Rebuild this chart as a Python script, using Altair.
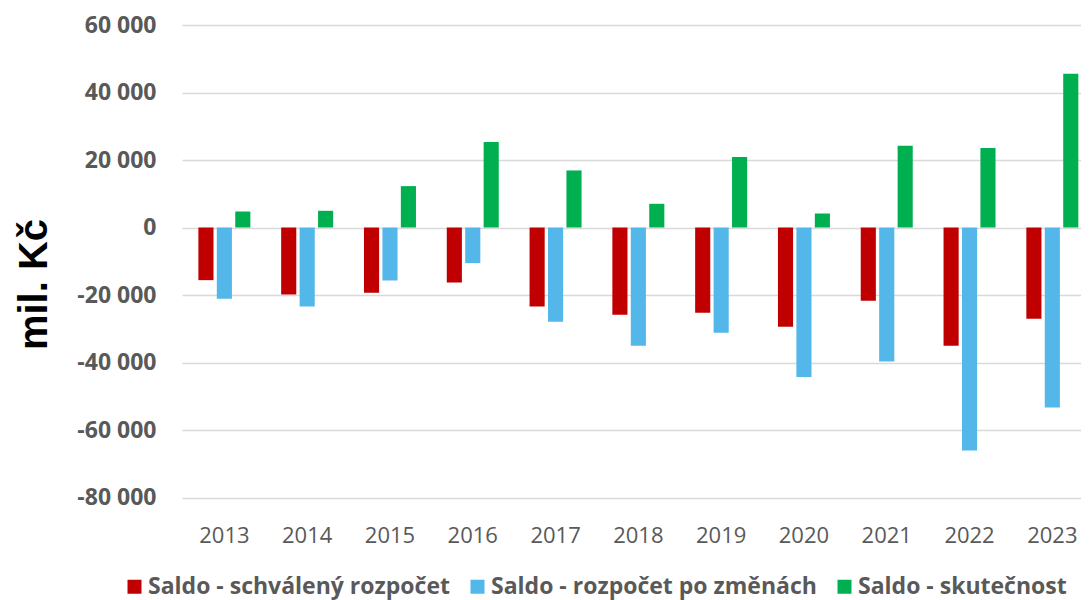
import altair as alt
import pandas as pd

years = [str(y) for y in range(2013, 2024)]
schvaleny = [-15600, -19850, -19350, -16300, -23400, -25870, -25280, -29420, -21720, -35050, -27050]
po_zmenach = [-21100, -23400, -15700, -10550, -27940, -35050, -31200, -44330, -39700, -66070, -53330]
skutecnost = [4740, 4950, 12260, 25300, 16900, 7020, 20860, 4150, 24200, 23520, 45540]

series_names = ["Saldo - schválený rozpočet", "Saldo - rozpočet po změnách", "Saldo - skutečnost"]
series_colors = ["#C00000", "#53B7E9", "#00B050"]
y_ticks = [-80000, -60000, -40000, -20000, 0, 20000, 40000, 60000]

rows = []
for name, vals in zip(series_names, [schvaleny, po_zmenach, skutecnost]):
    for yr, v in zip(years, vals):
        rows.append({"rok": yr, "serie": name, "hodnota": v})
df = pd.DataFrame(rows)

FONT = "Open Sans"
GRAY = "#595959"

chart = alt.Chart(df).mark_bar().encode(
    x=alt.X(
        "rok:N",
        sort=years,
        scale=alt.Scale(paddingInner=0.372, paddingOuter=0.115, align=0.86),
        axis=alt.Axis(
            title=None,
            labelAngle=0,
            labelFont=FONT,
            labelFontSize=22,
            labelColor=GRAY,
            labelFontWeight="normal",
            labelBaseline="alphabetic",
            labelPadding=45,
            ticks=False,
            tickSize=0,
            domain=False,
            grid=False,
        ),
    ),
    xOffset=alt.XOffset("serie:N", sort=series_names, scale=alt.Scale(paddingInner=0.18, paddingOuter=0)),
    y=alt.Y(
        "hodnota:Q",
        scale=alt.Scale(domain=[-80000, 60000], nice=False, zero=False),
        axis=alt.Axis(
            values=y_ticks,
            title="mil. Kč",
            titleFont="Liberation Sans",
            titleFontSize=40,
            titleFontWeight="bold",
            titleColor="#000000",
            titleAngle=-90,
            titleAlign="center",
            titleBaseline="alphabetic",
            titleX=-136,
            titleY=259,
            labelFont=FONT,
            labelFontSize=23,
            labelFontWeight="bold",
            labelColor=GRAY,
            labelPadding=26,
            labelExpr="(datum.value < 0 ? '-' : '') + replace(format(abs(datum.value), ','), ',', ' ')",
            ticks=False,
            tickSize=0,
            domain=False,
            grid=True,
            gridColor="#D9D9D9",
            gridWidth=1.5,
        ),
    ),
    color=alt.Color(
        "serie:N",
        sort=series_names,
        scale=alt.Scale(domain=series_names, range=series_colors),
        legend=alt.Legend(
            title=None,
            orient="none",
            legendX=-59,
            legendY=550,
            direction="horizontal",
            symbolType="square",
            symbolSize=196,
            symbolStrokeWidth=0,
            labelFont=FONT,
            labelFontSize=23,
            labelFontWeight="bold",
            labelColor=GRAY,
            labelOffset=2,
            labelLimit=500,
            columnPadding=16,
            padding=0,
        ),
    ),
).properties(
    width=899,
    height=472.5,
    background="white",
    autosize=alt.AutoSizeParams(type="none"),
    padding={"left": 174, "top": 17, "right": 0, "bottom": 102},
).configure_view(stroke=None)

chart.save("out.html", embed_options={"renderer": "svg", "actions": False})
